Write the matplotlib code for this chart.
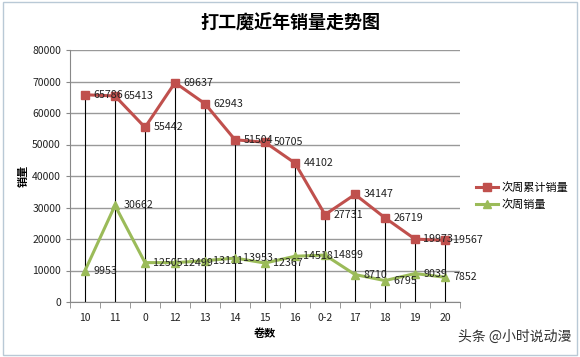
import numpy as np
import matplotlib.pyplot as plt
from matplotlib.patches import Rectangle

plt.rcParams['font.family'] = ['Noto Sans CJK SC', 'DejaVu Sans']

volumes = ['10', '11', '0', '12', '13', '14', '15', '16', '0-2', '17', '18', '19', '20']
cumulative = [65786, 65413, 55442, 69637, 62943, 51504, 50705, 44102, 27731, 34147, 26719, 19973, 19567]
weekly = [9953, 30662, 12505, 12499, 13111, 13953, 12367, 14518, 14899, 8710, 6795, 9039, 7852]

red = '#C0504D'
green = '#9BBB59'

fig = plt.figure(figsize=(5.8, 3.57), dpi=100)
fig.patches.append(Rectangle((0.006, 0.006), 0.988, 0.988, transform=fig.transFigure,
                             fill=False, edgecolor='#b9c9d6', linewidth=1))
ax = fig.add_axes([70 / 580, 1 - 302 / 357, 390 / 580, 252 / 357])

x = np.arange(len(volumes))
ax.set_xlim(-0.5, len(volumes) - 0.5)
ax.set_ylim(0, 80000)
ax.set_yticks(np.arange(0, 80001, 10000))
ax.set_xticks(x)
ax.set_xticklabels(volumes)
ax.tick_params(axis='both', labelsize=7.5, length=3, color='#888888', colors='#222222')
ax.tick_params(axis='x', length=0, pad=8)
ax.set_xticks(np.arange(-0.5, len(volumes), 1), minor=True)
ax.tick_params(axis='x', which='minor', length=4, color='#888888')
ax.yaxis.grid(True, color='#999999', linewidth=1)
ax.set_axisbelow(True)
for s in ['top', 'right']:
    ax.spines[s].set_visible(False)
ax.spines['left'].set_color('#888888')
ax.spines['bottom'].set_color('#888888')

# drop lines
ax.vlines(x, 0, cumulative, color='black', linewidth=0.8, zorder=2)

ax.plot(x, cumulative, color=red, linewidth=2.2, marker='s', markersize=6,
        label='次周累计销量', zorder=3)
ax.plot(x, weekly, color=green, linewidth=2.2, marker='^', markersize=6,
        label='次周销量', zorder=3)

for xi, v in zip(x, cumulative):
    ax.annotate(str(v), (xi, v), xytext=(6, 0), textcoords='offset points',
                va='center', ha='left', fontsize=7.7, color='#222222', zorder=4)
for xi, v in zip(x, weekly):
    ax.annotate(str(v), (xi, v), xytext=(6, 0), textcoords='offset points',
                va='center', ha='left', fontsize=7.7, color='#222222', zorder=4)

ax.set_xlabel('卷数', fontsize=8, fontweight='bold', labelpad=3)
ax.set_ylabel('销量', fontsize=8, fontweight='bold', labelpad=2)

fig.text(0.5, 1 - 23 / 357, '打工魔近年销量走势图', ha='center', va='center',
         fontsize=13, fontweight='bold')

ax.legend(loc='center left', bbox_to_anchor=(1.03, 0.42), frameon=False,
          fontsize=8, handlelength=2.0, handletextpad=0.3, labelspacing=0.6,
          borderaxespad=0)

fig.text(0.985, 1 - 337 / 357, '头条 @小时说动漫', ha='right', va='center',
         fontsize=10, color='#333333')

fig.savefig('out.png', dpi=100)
